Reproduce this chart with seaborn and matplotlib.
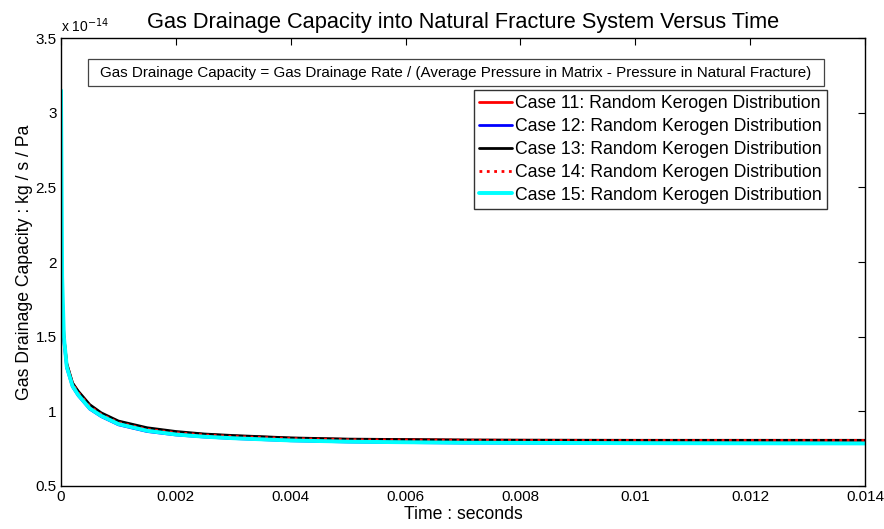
import matplotlib
matplotlib.use("Agg")
import matplotlib.pyplot as plt
from matplotlib.patches import Rectangle
import seaborn as sns
import pandas as pd

sns.set_theme(style="white")
plt.rcParams['font.family'] = ['Liberation Sans', 'DejaVu Sans']
plt.rcParams['text.color'] = 'black'
plt.rcParams['axes.labelcolor'] = 'black'

time_s = [0, 0.00002, 0.00005, 0.0001, 0.0002, 0.0003, 0.0005, 0.0007, 0.001,
          0.0015, 0.002, 0.0025, 0.003, 0.004, 0.005, 0.006, 0.007, 0.008,
          0.01, 0.012, 0.014]

case11 = [2.25, 1.80, 1.50, 1.32, 1.19, 1.13, 1.04, 0.985, 0.93, 0.885, 0.860,
          0.845, 0.835, 0.820, 0.812, 0.810, 0.807, 0.806, 0.805, 0.805, 0.805]
case12 = [2.20, 1.78, 1.47, 1.29, 1.165, 1.105, 1.015, 0.965, 0.910, 0.865, 0.842,
          0.828, 0.818, 0.803, 0.795, 0.791, 0.788, 0.787, 0.785, 0.784, 0.784]
case13 = [2.25, 1.80, 1.50, 1.32, 1.19, 1.135, 1.045, 0.99, 0.935, 0.89, 0.865,
          0.848, 0.838, 0.822, 0.814, 0.811, 0.808, 0.807, 0.806, 0.806, 0.806]
case14 = [2.24, 1.79, 1.49, 1.31, 1.185, 1.125, 1.035, 0.98, 0.925, 0.88, 0.857,
          0.842, 0.832, 0.818, 0.810, 0.808, 0.806, 0.805, 0.805, 0.805, 0.805]
case15 = [3.15, 1.90, 1.50, 1.30, 1.17, 1.11, 1.02, 0.97, 0.915, 0.87, 0.845,
          0.830, 0.820, 0.805, 0.797, 0.793, 0.790, 0.789, 0.787, 0.786, 0.785]

labels = ["Case 11: Random Kerogen Distribution",
          "Case 12: Random Kerogen Distribution",
          "Case 13: Random Kerogen Distribution",
          "Case 14: Random Kerogen Distribution",
          "Case 15: Random Kerogen Distribution"]

series = [case11, case12, case13, case14, case15]
colors = ["#ff0000", "#0000ff", "#000000", "#ff0000", "#00ffff"]
styles = ["-", "-", "-", ":", "-"]
widths = [2.0, 2.0, 2.0, 2.0, 2.8]

fig = plt.figure(figsize=(8.84, 5.29), dpi=100)
ax = fig.add_axes([0.069, 0.0813, 0.9095, 0.8467])

for vals, lab, c, ls, lw in zip(series, labels, colors, styles, widths):
    df = pd.DataFrame({"t": time_s, "v": vals})
    sns.lineplot(data=df, x="t", y="v", ax=ax, color=c, linestyle=ls,
                 linewidth=lw, label=lab)

ax.set_xlim(0, 0.014)
ax.set_ylim(0.5, 3.5)
ax.set_xticks([0, 0.002, 0.004, 0.006, 0.008, 0.01, 0.012, 0.014])
ax.set_xticklabels(["0", "0.002", "0.004", "0.006", "0.008", "0.01", "0.012", "0.014"])
ax.set_yticks([0.5, 1, 1.5, 2, 2.5, 3, 3.5])
ax.set_yticklabels(["0.5", "1", "1.5", "2", "2.5", "3", "3.5"])
ax.tick_params(direction="in", length=5, width=0.8, top=True, right=True,
               labelsize=11, colors="black", labelcolor="black", pad=3)
for sp in ax.spines.values():
    sp.set_color("black")
    sp.set_linewidth(1.0)

ax.set_xlabel("Time : seconds", fontsize=12.7, labelpad=1, color="black")
ax.set_ylabel("Gas Drainage Capacity : kg / s / Pa", fontsize=12.7, labelpad=2,
              color="black")
ax.set_title("Gas Drainage Capacity into Natural Fracture System Versus Time",
             fontsize=15.7, pad=7, color="black")
ax.text(0.0, 1.006, r"x 10$^{-14}$", transform=ax.transAxes, fontsize=10,
        ha="left", va="bottom", color="black")

ax.add_patch(Rectangle((0.0336, 0.893), 0.9154, 0.060, transform=ax.transAxes,
                       facecolor="white", edgecolor="#444444", linewidth=0.9,
                       zorder=5))
ax.text(0.491, 0.923,
        "Gas Drainage Capacity = Gas Drainage Rate / (Average Pressure in Matrix - Pressure in Natural Fracture)",
        transform=ax.transAxes, ha="center", va="center", fontsize=10.9,
        zorder=6, color="black")

leg = ax.legend(loc="upper right", bbox_to_anchor=(0.953, 0.884), fontsize=12.7,
                frameon=True, fancybox=False, handlelength=1.85, handletextpad=0.2,
                labelspacing=0.33, borderpad=0.3, borderaxespad=0)
leg.get_frame().set_edgecolor("black")
leg.get_frame().set_linewidth(1.0)
for t in leg.get_texts():
    t.set_color("black")

fig.savefig("out.png", dpi=100, facecolor="white")
